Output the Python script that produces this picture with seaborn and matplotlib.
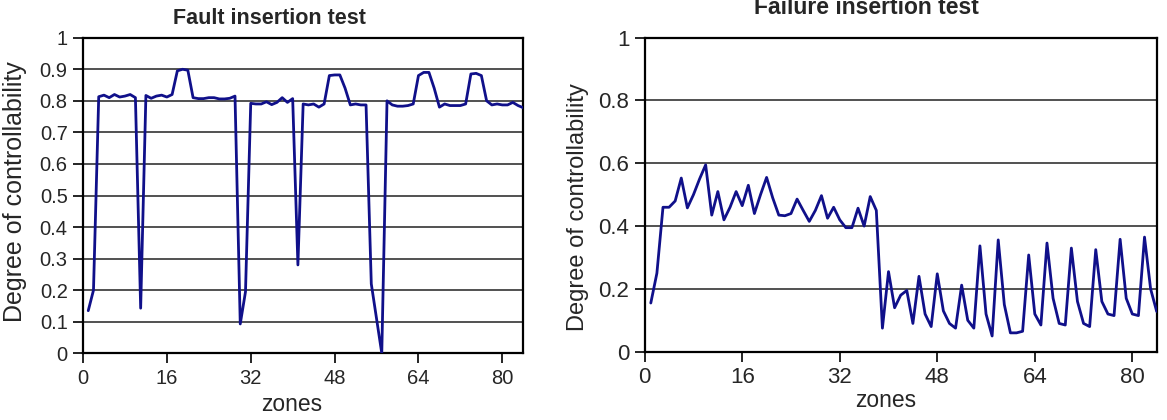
import numpy as np
import pandas as pd
import matplotlib
matplotlib.use("Agg")
import matplotlib.pyplot as plt
import seaborn as sns

# ---- data ----
zones = list(range(1, 85))

fault_ctrl = [
    0.135, 0.20, 0.813, 0.818, 0.81, 0.82, 0.812, 0.815, 0.82, 0.81,
    0.143, 0.817, 0.808, 0.815, 0.818, 0.812, 0.82, 0.895, 0.90, 0.897,
    0.81, 0.807, 0.807, 0.81, 0.81, 0.806, 0.806, 0.808, 0.815, 0.093,
    0.195, 0.792, 0.79, 0.79, 0.797, 0.788, 0.795, 0.81, 0.795, 0.807,
    0.28, 0.79, 0.787, 0.79, 0.78, 0.79, 0.88, 0.882, 0.882, 0.84,
    0.787, 0.79, 0.787, 0.787, 0.22, 0.11, 0.0, 0.80, 0.787, 0.783,
    0.783, 0.785, 0.79, 0.88, 0.89, 0.89, 0.84, 0.78, 0.79, 0.785,
    0.785, 0.785, 0.79, 0.885, 0.887, 0.88, 0.80, 0.787, 0.79, 0.787,
    0.787, 0.795, 0.785, 0.778,
]

failure_ctrl = [
    0.155, 0.25, 0.46, 0.46, 0.48, 0.553, 0.458, 0.50, 0.55, 0.595,
    0.435, 0.51, 0.42, 0.46, 0.51, 0.465, 0.53, 0.44, 0.50, 0.555,
    0.49, 0.435, 0.433, 0.44, 0.486, 0.45, 0.415, 0.45, 0.497, 0.425,
    0.46, 0.42, 0.395, 0.395, 0.457, 0.40, 0.494, 0.45, 0.075, 0.255,
    0.14, 0.18, 0.195, 0.09, 0.24, 0.12, 0.08, 0.248, 0.13, 0.09,
    0.075, 0.212, 0.10, 0.075, 0.337, 0.12, 0.05, 0.356, 0.15, 0.06,
    0.06, 0.065, 0.308, 0.12, 0.085, 0.346, 0.17, 0.09, 0.085, 0.33,
    0.16, 0.09, 0.08, 0.325, 0.16, 0.12, 0.115, 0.358, 0.17, 0.12,
    0.115, 0.365, 0.20, 0.128,
]

x_ticks = [0, 16, 32, 48, 64, 80]
left_yticks = [0, 0.1, 0.2, 0.3, 0.4, 0.5, 0.6, 0.7, 0.8, 0.9, 1]
left_ylabels = ["0", "0.1", "0.2", "0.3", "0.4", "0.5", "0.6", "0.7", "0.8", "0.9", "1"]
right_yticks = [0, 0.2, 0.4, 0.6, 0.8, 1]
right_ylabels = ["0", "0.2", "0.4", "0.6", "0.8", "1"]

titles = ["Fault insertion test", "Failure insertion test"]
xlabel = "zones"
ylabel = "Degree of controllability"

# ---- style ----
sns.set_style("white")
plt.rcParams["font.family"] = ["Liberation Sans", "DejaVu Sans"]

W, H = 1167, 420
fig = plt.figure(figsize=(W / 100, H / 100), dpi=100)

line_color = "#10108a"

def px_ax(l, r, t, b):
    return fig.add_axes([l / W, 1 - b / H, (r - l) / W, (b - t) / H])

ax1 = px_ax(83, 523.3, 37.7, 353.3)
ax2 = px_ax(644.7, 1156.7, 37.7, 351.7)

df1 = pd.DataFrame({"zone": zones, "ctrl": fault_ctrl})
df2 = pd.DataFrame({"zone": zones, "ctrl": failure_ctrl})

specs = [
    (ax1, df1, left_yticks, left_ylabels, 14.5),
    (ax2, df2, right_yticks, right_ylabels, 16),
]

for ax, df, yt, yl, fs in specs:
    ax.set_ylim(0, 1)
    ax.set_xlim(0, 84)
    for y in yt:
        ax.axhline(y, color="#222222", lw=1.1, zorder=1)
    sns.lineplot(data=df, x="zone", y="ctrl", ax=ax, color=line_color,
                 lw=2.0, zorder=3)
    ax.set_xticks(x_ticks)
    ax.set_xticklabels([str(t) for t in x_ticks], fontsize=fs)
    ax.set_yticks(yt)
    ax.set_yticklabels(yl, fontsize=fs)
    ax.tick_params(axis="both", direction="out", length=7, width=1.2,
                   color="black", pad=4, bottom=True, left=True)
    for s in ax.spines.values():
        s.set_visible(True)
        s.set_color("black")
        s.set_linewidth(1.6)
    ax.set_xlabel("")
    ax.set_ylabel("")

# titles
fig.text(269 / W, 1 - 24 / H, titles[0], ha="center", va="baseline",
         fontsize=15.5, fontweight="bold")
fig.text(866.5 / W, 1 - 14 / H, titles[1], ha="center", va="baseline",
         fontsize=16.5, fontweight="bold")

# axis labels
fig.text(291.3 / W, 1 - 411 / H, xlabel, ha="center", va="baseline", fontsize=16.5)
fig.text(885.7 / W, 1 - 407 / H, xlabel, ha="center", va="baseline", fontsize=16.5)
fig.text(15 / W, 1 - 192 / H, ylabel, ha="center", va="center",
         rotation=90, fontsize=18)
fig.text(578 / W, 1 - 207 / H, ylabel, ha="center", va="center",
         rotation=90, fontsize=17)

fig.savefig("out.png", dpi=100)
